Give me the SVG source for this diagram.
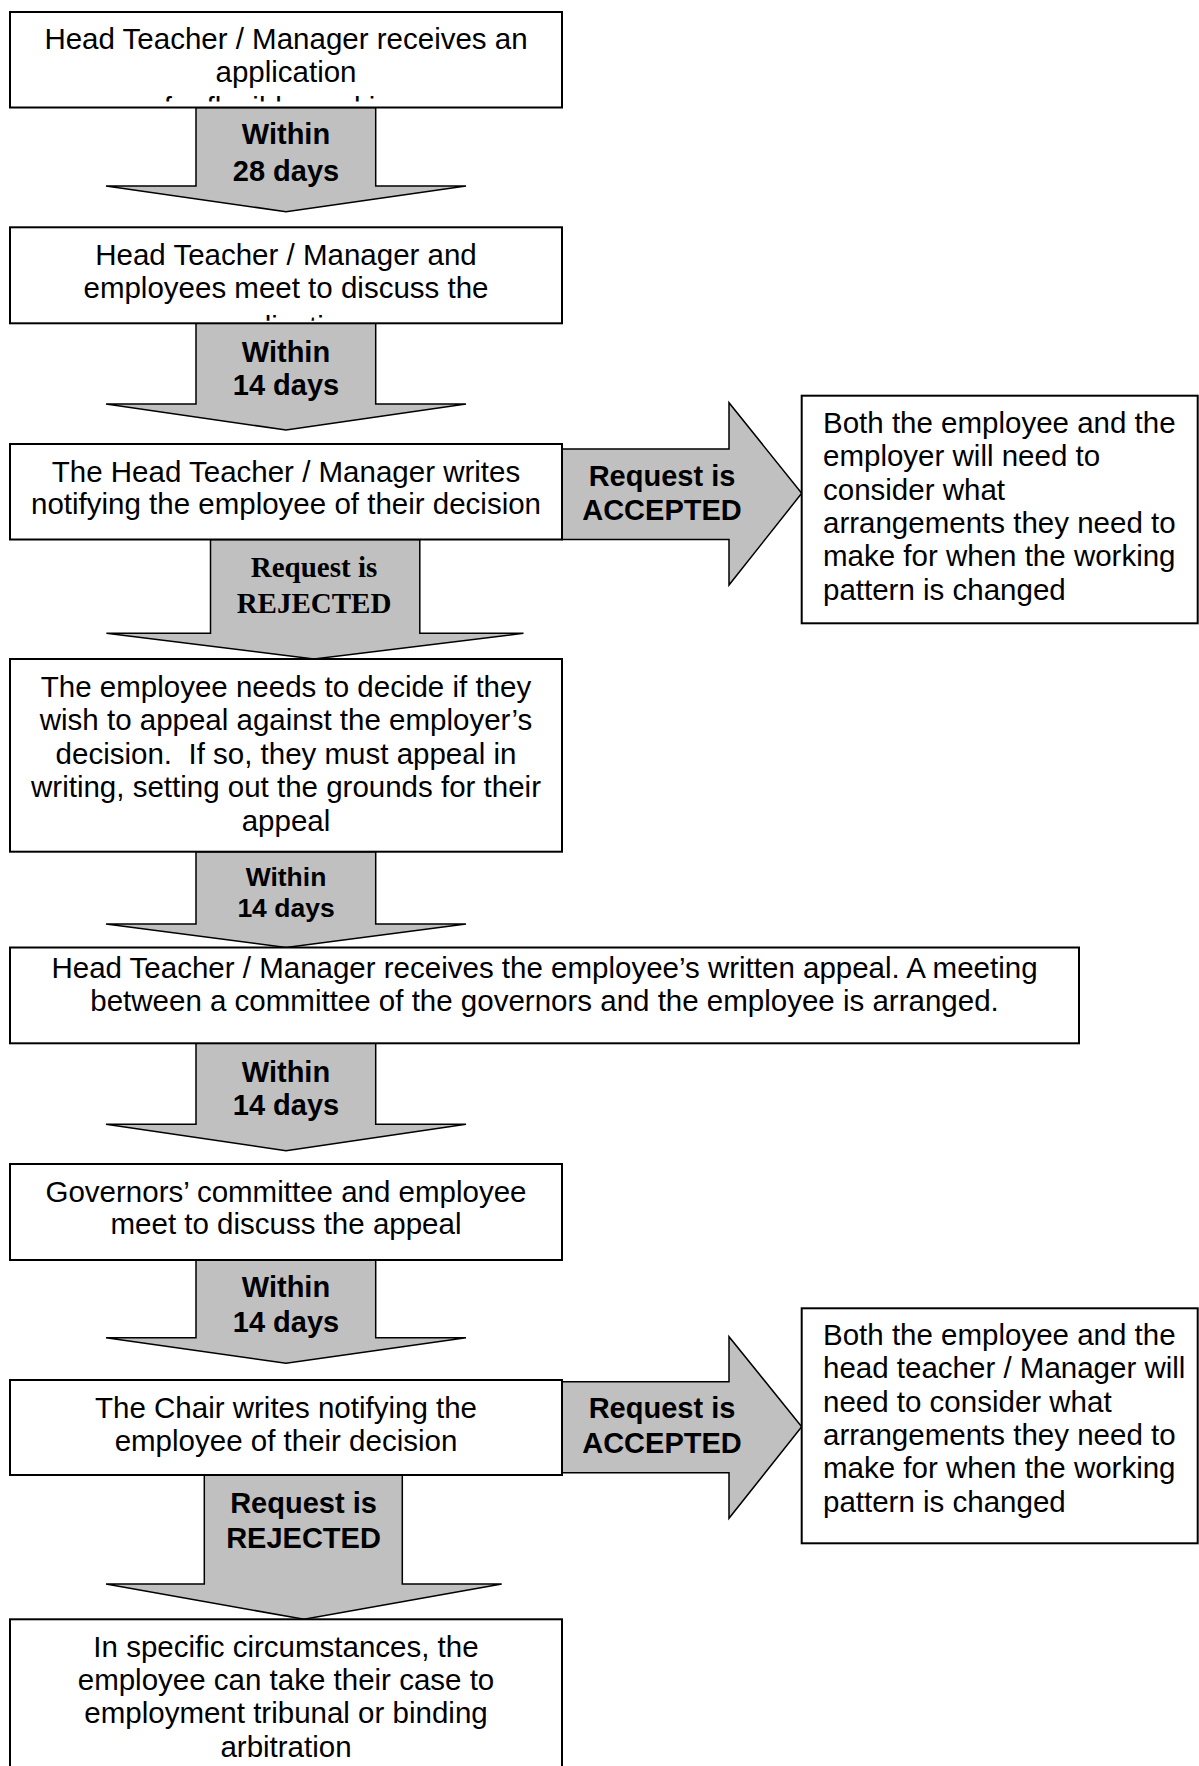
<svg xmlns="http://www.w3.org/2000/svg" width="1199" height="1766" viewBox="0 0 1199 1766">
<style>
.box{fill:#fff;stroke:#000;stroke-width:2}
.arr{fill:#c0c0c0;stroke:#000;stroke-width:1.5;stroke-linejoin:miter}
.t{font-family:"Liberation Sans",Arial,sans-serif;font-size:29.5px;fill:#000}
.c{text-anchor:middle}
.b{font-family:"Liberation Sans",Arial,sans-serif;font-size:29px;font-weight:bold;fill:#000;text-anchor:middle}
.bs{font-size:26.5px}
.s{font-family:"Liberation Serif","Times New Roman",serif;font-size:29px;font-weight:bold;fill:#000;text-anchor:middle}
</style>
<defs>
<clipPath id="clip1"><rect x="10" y="12" width="552" height="89.5"/></clipPath>
<clipPath id="clip2"><rect x="10" y="227.3" width="552" height="93.5"/></clipPath>
</defs>
<rect width="1199" height="1766" fill="#fff"/>
<g id="connectors">
<path class="arr" d="M196,107.5 L375.7,107.5 L375.7,186 L466,186 L286,211.7 L106,186 L196,186 Z"/>
<path class="arr" d="M196,323.3 L375.7,323.3 L375.7,404 L466,404 L286,430 L106,404 L196,404 Z"/>
<path class="arr" d="M210.5,539.5 L419.8,539.5 L419.8,633.3 L523.5,633.3 L314,659 L106.4,633.3 L210.5,633.3 Z"/>
<path class="arr" d="M196,851.7 L375.7,851.7 L375.7,924 L466,924 L286,947.5 L106,924 L196,924 Z"/>
<path class="arr" d="M196,1043.3 L375.7,1043.3 L375.7,1124.3 L466,1124.3 L286,1150.7 L106,1124.3 L196,1124.3 Z"/>
<path class="arr" d="M196,1260 L375.7,1260 L375.7,1337.7 L466,1337.7 L286,1363.3 L106,1337.7 L196,1337.7 Z"/>
<path class="arr" d="M204.3,1475 L402.3,1475 L402.3,1584 L501.7,1584 L304,1619.3 L106,1584 L204.3,1584 Z"/>
<path class="arr" d="M562,449 L729,449 L729,402.7 L801.7,493.3 L729,585 L729,539.5 L562,539.5 Z"/>
<path class="arr" d="M562,1381.7 L729,1381.7 L729,1336.7 L801.7,1426.7 L729,1518.3 L729,1472.7 L562,1472.7 Z"/>
<text class="b" x="286" y="144">Within</text>
<text class="b" x="286" y="180.5">28 days</text>
<text class="b" x="286" y="361.7">Within</text>
<text class="b" x="286" y="395">14 days</text>
<text class="s" x="314" y="576.7">Request is</text>
<text class="s" x="314" y="612.7">REJECTED</text>
<text class="b bs" x="286" y="886">Within</text>
<text class="b bs" x="286" y="916.7">14 days</text>
<text class="b" x="286" y="1081.7">Within</text>
<text class="b" x="286" y="1115">14 days</text>
<text class="b" x="286" y="1296.7">Within</text>
<text class="b" x="286" y="1331.7">14 days</text>
<text class="b" x="303.5" y="1513.3">Request is</text>
<text class="b" x="303.5" y="1548.3">REJECTED</text>
<text class="b" x="662" y="486">Request is</text>
<text class="b" x="662" y="520">ACCEPTED</text>
<text class="b" x="662" y="1418.3">Request is</text>
<text class="b" x="662" y="1453.3">ACCEPTED</text>
</g>
<g id="n1">
<rect class="box" x="10" y="12" width="552" height="95.5"/>
<g clip-path="url(#clip1)">
<text class="t c" x="286" y="49">Head Teacher / Manager receives an</text>
<text class="t c" x="286" y="82">application</text>
<text class="t c" x="286" y="117.5">for flexible working</text>
</g>
</g>
<g id="n2">
<rect class="box" x="10" y="227.3" width="552" height="96"/>
<g clip-path="url(#clip2)">
<text class="t c" x="286" y="265">Head Teacher / Manager and</text>
<text class="t c" x="286" y="298">employees meet to discuss the</text>
<text class="t c" x="286" y="336.5">application</text>
</g>
</g>
<g id="n3">
<rect class="box" x="10" y="444" width="552" height="95.5"/>
<text class="t c" x="286" y="481.7">The Head Teacher / Manager writes</text>
<text class="t c" x="286" y="514.3">notifying the employee of their decision</text>
</g>
<g id="n4">
<rect class="box" x="801.7" y="395.7" width="396" height="227.6"/>
<text class="t" x="823" y="433">Both the employee and the</text>
<text class="t" x="823" y="466.3">employer will need to</text>
<text class="t" x="823" y="499.6">consider what</text>
<text class="t" x="823" y="533">arrangements they need to</text>
<text class="t" x="823" y="566.3">make for when the working</text>
<text class="t" x="823" y="599.6">pattern is changed</text>
</g>
<g id="n5">
<rect class="box" x="10" y="659" width="552" height="192.7"/>
<text class="t c" x="286" y="696.5">The employee needs to decide if they</text>
<text class="t c" x="286" y="730">wish to appeal against the employer’s</text>
<text class="t c" x="286" y="763.5">decision.&#160; If so, they must appeal in</text>
<text class="t c" x="286" y="797">writing, setting out the grounds for their</text>
<text class="t c" x="286" y="830.5">appeal</text>
</g>
<g id="n6">
<rect class="box" x="10" y="947.5" width="1069" height="95.8"/>
<text class="t c" x="544.5" y="978.3">Head Teacher / Manager receives the employee’s written appeal. A meeting</text>
<text class="t c" x="544.5" y="1011">between a committee of the governors and the employee is arranged.</text>
</g>
<g id="n7">
<rect class="box" x="10" y="1164" width="552" height="96"/>
<text class="t c" x="286" y="1201.7">Governors’ committee and employee</text>
<text class="t c" x="286" y="1234">meet to discuss the appeal</text>
</g>
<g id="n8">
<rect class="box" x="10" y="1380" width="552" height="95"/>
<text class="t c" x="286" y="1418.3">The Chair writes notifying the</text>
<text class="t c" x="286" y="1450.5">employee of their decision</text>
</g>
<g id="n9">
<rect class="box" x="801.7" y="1308.3" width="396" height="235"/>
<text class="t" x="823" y="1345">Both the employee and the</text>
<text class="t" x="823" y="1378.3">head teacher / Manager will</text>
<text class="t" x="823" y="1411.6">need to consider what</text>
<text class="t" x="823" y="1445">arrangements they need to</text>
<text class="t" x="823" y="1478.3">make for when the working</text>
<text class="t" x="823" y="1511.6">pattern is changed</text>
</g>
<g id="n10">
<rect class="box" x="10" y="1619.3" width="552" height="160"/>
<text class="t c" x="286" y="1656.7">In specific circumstances, the</text>
<text class="t c" x="286" y="1690">employee can take their case to</text>
<text class="t c" x="286" y="1723.3">employment tribunal or binding</text>
<text class="t c" x="286" y="1756.6">arbitration</text>
</g>
</svg>
